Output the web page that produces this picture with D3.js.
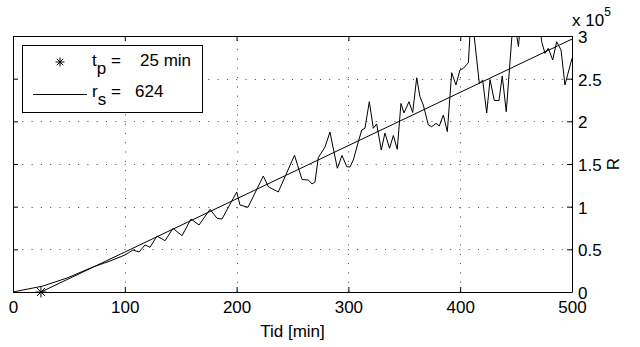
<!DOCTYPE html>
<html><head><meta charset="utf-8">
<script src="https://cdn.jsdelivr.net/npm/d3@7"></script>
<style>
html,body{margin:0;padding:0;background:#fff;}
svg text{font-family:"Liberation Sans",Arial,Helvetica,sans-serif;fill:#000;}
</style></head>
<body><svg id="c" width="640" height="347"></svg>
<script>
// ---- data ----
const timeMin = [0,26.8,48.3,71.6,86.8,100.2,107.3,112.7,118.1,122.5,128.8,136.0,143.1,151.2,159.2,166.4,176.2,182.5,186.9,200.1,203.0,210.2,223.9,228.4,237.3,251.8,258.5,264.3,267.4,270.1,273.1,279.1,283.5,290.1,294.3,298.5,301.4,304.4,308.9,311.9,314.8,318.7,322.3,325.3,329.4,332.7,336.8,340.2,343.7,347.0,349.7,354.2,357.5,361.1,364.0,367.0,371.5,374.5,378.4,381.3,384.9,388.5,392.4,396.2,399.8,402.8,407.3,410.0,417.1,420.1,423.7,426.7,430.5,434.7,437.6,441.2,447.7,452.1,454.4,462.4,469.6,472.9,475.8,478.8,482.7,486.3,490.2,493.7,500];
const rValues = [0,7000,16400,29300,36300,43400,49200,46900,55100,52400,65600,60100,74600,66000,85500,78500,96900,86400,85500,117200,102000,99300,135900,123400,117200,160200,131800,131200,126600,128900,157600,169900,187500,145000,160000,146800,146500,154700,176100,189800,191800,223000,191800,196900,166400,186300,168400,183400,167200,220900,209800,223000,210400,251100,228900,219100,195700,193700,197700,194500,207400,187900,257000,242600,260200,262100,268700,330000,244600,248400,209800,249000,224400,224400,253100,211300,324600,287500,324600,336300,330500,293300,279700,285600,271900,293300,283600,242600,273900];
const fitT = [25, 500];
const fitR = [0, 296400];
const tp = [25];
const tpR = [0];
const xTicks = [0,100,200,300,400,500];
const yTicks = [0,50000,100000,150000,200000,250000,300000];
const yTickLabels = ["0","0.5","1","1.5","2","2.5","3"];
const legendLabels = [{v:"t",s:"p",val:"25 min"},{v:"r",s:"s",val:"624"}];

// ---- layout ----
const L=13,R=572,T=36,B=292;
const svg=d3.select("#c");
const x=d3.scaleLinear().domain([0,500]).range([L,R]);
const y=d3.scaleLinear().domain([0,300000]).range([B,T]);
const fs=17;

// grid
const grid=svg.append("g").attr("stroke","#444").attr("stroke-width",1).attr("stroke-dasharray","1,8.3");
grid.selectAll("line.vx").data(xTicks.slice(1,-1)).join("line")
  .attr("x1",d=>Math.round(x(d))+0.5).attr("x2",d=>Math.round(x(d))+0.5).attr("y1",B).attr("y2",T);
grid.selectAll("line.hy").data(yTicks.slice(1,-1)).join("line")
  .attr("y1",d=>Math.round(y(d))+0.5).attr("y2",d=>Math.round(y(d))+0.5).attr("x1",L).attr("x2",R);

// axes
function styleAx(g){g.attr("font-family",null);g.selectAll("path.domain").attr("stroke","#000");g.selectAll(".tick line").attr("stroke","#000");g.selectAll("text").attr("font-size",fs).attr("fill","#000");}
svg.append("g").attr("transform",`translate(0,${B})`)
  .call(d3.axisBottom(x).tickValues(xTicks).tickSizeInner(-5).tickSizeOuter(0).tickPadding(9).tickFormat(d3.format("d"))).call(styleAx);
svg.append("g").attr("transform",`translate(0,${T})`)
  .call(d3.axisTop(x).tickValues(xTicks).tickSizeInner(-5).tickSizeOuter(0).tickFormat("")).call(styleAx);
const ya=svg.append("g").attr("transform",`translate(${R},0)`)
  .call(d3.axisRight(y).tickValues(yTicks).tickSizeInner(-5).tickSizeOuter(0).tickPadding(6).tickFormat((d,i)=>yTickLabels[i])).call(styleAx);
ya.selectAll("text").attr("dy","0.38em");
svg.append("g").attr("transform",`translate(${L},0)`)
  .call(d3.axisLeft(y).tickValues(yTicks).tickSizeInner(-5).tickSizeOuter(0).tickFormat("")).call(styleAx);

// clip
svg.append("clipPath").attr("id","clip").append("rect").attr("x",L).attr("y",T).attr("width",R-L).attr("height",B-T);

const line=d3.line().x(d=>x(d[0])).y(d=>y(d[1]));
const plot=svg.append("g").attr("clip-path","url(#clip)");
plot.append("path").datum(timeMin.map((t,i)=>[t,rValues[i]])).attr("d",line)
  .attr("fill","none").attr("stroke","#000").attr("stroke-width",1);
plot.append("path").datum(fitT.map((t,i)=>[t,fitR[i]])).attr("d",line)
  .attr("fill","none").attr("stroke","#000").attr("stroke-width",1);

// star marker
function star(g,cx,cy,r){
  const a=r*0.72;
  const segs=[[0,-r,0,r],[-r,0,r,0],[-a,-a,a,a],[-a,a,a,-a]];
  g.selectAll(null).data(segs).join("line").attr("x1",d=>cx+d[0]).attr("y1",d=>cy+d[1]).attr("x2",d=>cx+d[2]).attr("y2",d=>cy+d[3])
   .attr("stroke","#000").attr("stroke-width",1);
}
tp.forEach((t,i)=>star(svg.append("g"),x(t),y(tpR[i]),5.5));

// y exponent
const ex=svg.append("text").attr("x",572).attr("y",26).attr("font-size",fs);
ex.append("tspan").text("x 10");
ex.append("tspan").attr("font-size",12).attr("dy",-10).text("5");

// axis labels
svg.append("text").attr("x",(L+R)/2).attr("y",337).attr("text-anchor","middle").attr("font-size",fs).text("Tid [min]");
svg.append("text").attr("transform",`translate(619,${(T+B)/2}) rotate(-90)`).attr("text-anchor","middle").attr("font-size",fs).text("R");

// legend
const lg=svg.append("g");
lg.append("rect").attr("x",22.5).attr("y",45.5).attr("width",180).attr("height",67).attr("fill","#fff").attr("stroke","#000").attr("stroke-width",1);
star(lg,60,62,4.5);
lg.append("line").attr("x1",33).attr("x2",87).attr("y1",94.5).attr("y2",94.5).attr("stroke","#000").attr("stroke-width",1);
const rowsY=[66,97];
legendLabels.forEach((d,i)=>{
  const t=lg.append("text").attr("x",92).attr("y",rowsY[i]).attr("font-size",fs);
  t.append("tspan").text(d.v);
  t.append("tspan").attr("dy",8).text(d.s);
  lg.append("text").attr("x",111).attr("y",rowsY[i]).attr("font-size",fs).text("=");
  lg.append("text").attr("x",i===0?140:135).attr("y",rowsY[i]).attr("font-size",fs).text(d.val);
});
</script></body></html>
